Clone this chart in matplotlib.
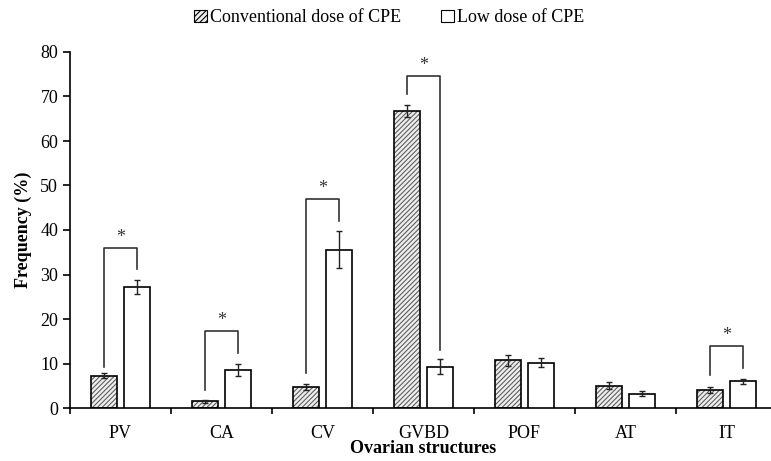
import matplotlib
matplotlib.use("Agg")
import matplotlib.pyplot as plt
import numpy as np
from matplotlib.patches import Patch

plt.rcParams['font.family'] = ['Liberation Serif', 'DejaVu Serif']
plt.rcParams['hatch.linewidth'] = 0.8

categories = ["PV", "CA", "CV", "GVBD", "POF", "AT", "IT"]
conventional = [7.3, 1.5, 4.7, 66.8, 10.7, 5.0, 4.1]
conventional_err = [0.5, 0.4, 0.6, 1.3, 1.2, 0.8, 0.7]
low = [27.2, 8.5, 35.6, 9.3, 10.2, 3.2, 6.0]
low_err = [1.5, 1.3, 4.2, 1.6, 1.0, 0.6, 0.6]
# significance brackets: (category index, top y, left leg bottom, right leg bottom)
sig_idx = [0, 1, 2, 3, 6]
sig_top = [36.0, 17.3, 47.0, 74.7, 13.9]
sig_left = [9.2, 4.0, 7.9, 70.5, 7.4]
sig_right = [31.2, 12.4, 42.0, 13.0, 9.1]

fig = plt.figure(figsize=(7.71, 4.61), dpi=100)
ax = fig.add_axes([70/771, 53/461, 707/771, 356/461])

x = np.arange(len(categories)) + 0.5
w = 0.26
off = 0.16

ax.bar(x - off, conventional, w, color='#eeeeee', edgecolor='#606060', hatch='///////', linewidth=0, zorder=2)
ax.bar(x - off, conventional, w, fill=False, edgecolor='black', linewidth=1.2, zorder=3)
ax.bar(x + off, low, w, color='white', edgecolor='black', linewidth=1.2, zorder=3)
ax.errorbar(x - off, conventional, yerr=conventional_err, fmt='none', ecolor='#222222', elinewidth=1, capsize=2.5, capthick=1, zorder=4)
ax.errorbar(x + off, low, yerr=low_err, fmt='none', ecolor='#222222', elinewidth=1, capsize=2.5, capthick=1, zorder=4)

for i, t, l, r in zip(sig_idx, sig_top, sig_left, sig_right):
    xl = x[i] - off
    xr = x[i] + off
    ax.plot([xl, xl, xr, xr], [l, t, t, r], color='#333333', lw=1.2, zorder=5)
    ax.text((xl + xr) / 2, t + 0.4, '*', ha='center', va='bottom', fontsize=13, color='#333333')

h1 = Patch(facecolor='#eeeeee', edgecolor='black', hatch='//////', linewidth=0.8)
h2 = Patch(facecolor='white', edgecolor='black', linewidth=0.8)
fig.legend([h1, h2], ['Conventional dose of CPE', 'Low dose of CPE'], loc='upper center',
           bbox_to_anchor=(0.505, 1.015), ncol=2, frameon=False, fontsize=13,
           handlelength=0.7, handleheight=0.7, handletextpad=0.2, columnspacing=2.2)

ax.set_xlim(0, 7)
ax.set_ylim(0, 80)
ax.set_yticks(range(0, 81, 10))
ax.set_xticks(np.arange(0, 8))
ax.set_xticklabels([])
ax.set_xticks(x, minor=True)
ax.set_xticklabels(categories, minor=True)
ax.tick_params(axis='x', which='minor', length=0, pad=12, labelsize=13)
ax.tick_params(axis='x', which='major', direction='out', length=4, width=1.2)
ax.tick_params(axis='y', direction='out', length=5, width=1.2, labelsize=13)
for s in ['top', 'right']:
    ax.spines[s].set_visible(False)
for s in ['left', 'bottom']:
    ax.spines[s].set_linewidth(1.2)

ax.set_xlabel('Ovarian structures', fontsize=13, fontweight='bold', labelpad=-1)
ax.set_ylabel('Frequency (%)', fontsize=13, fontweight='bold', labelpad=6)

fig.savefig('out.png', dpi=100)
